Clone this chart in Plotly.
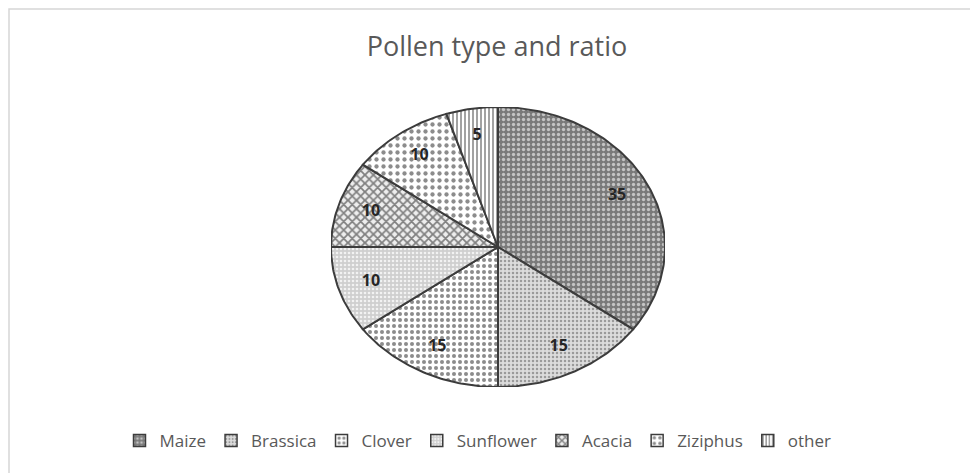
import numpy as np
import plotly.graph_objects as go

# Pollen composition (%), in clockwise order starting at 12 o'clock
categories = ["Maize", "Brassica", "Clover", "Sunflower", "Acacia", "Ziziphus", "other"]
ratios = [35, 15, 15, 10, 10, 10, 5]

# fill pattern for each pollen type
patterns = {
    "Maize":     dict(shape=".", bgcolor="#7a7a7a", fgcolor="#c4c4c4", size=5, solidity=0.35),
    "Brassica":  dict(shape=".", bgcolor="#dcdcdc", fgcolor="#9a9a9a", size=4, solidity=0.3),
    "Clover":    dict(shape=".", bgcolor="#ffffff", fgcolor="#8c8c8c", size=6, solidity=0.35),
    "Sunflower": dict(shape=".", bgcolor="#cfcfcf", fgcolor="#f2f2f2", size=4, solidity=0.35),
    "Acacia":    dict(shape="x", bgcolor="#eeeeee", fgcolor="#808080", size=6, solidity=0.5),
    "Ziziphus":  dict(shape=".", bgcolor="#ffffff", fgcolor="#8c8c8c", size=7, solidity=0.3),
    "other":     dict(shape="|", bgcolor="#ffffff", fgcolor="#7a7a7a", size=4, solidity=0.35),
}

W, H = 970, 473
cx, cy, rx, ry = 498, 247, 167, 140   # pie centre and radii in pixels
EDGE = "#3c3c3c"

fig = go.Figure()

total = float(sum(ratios))
start = 0.0
label_x, label_y = [], []
for name, v in zip(categories, ratios):
    span = v / total * 2 * np.pi
    th = np.linspace(start, start + span, max(8, int(v * 4)))
    xs = np.concatenate([[0.0], np.sin(th), [0.0]])
    ys = np.concatenate([[0.0], np.cos(th), [0.0]])
    fig.add_trace(go.Scatter(
        x=xs, y=ys, mode="lines", fill="toself", name=name,
        legendgroup=name, showlegend=False,
        line=dict(color=EDGE, width=2),
        fillpattern=dict(fillmode="replace", **patterns[name]),
        fillcolor=patterns[name]["bgcolor"],
        hoverinfo="name",
    ))
    mid = start + span / 2
    label_x.append(0.8 * np.sin(mid))
    label_y.append(0.8 * np.cos(mid))
    start += span

# square legend keys carrying the same patterns
for name in categories:
    fig.add_trace(go.Bar(
        x=[None], y=[None], name=name, legendgroup=name,
        marker=dict(color=patterns[name]["bgcolor"],
                    line=dict(color=EDGE, width=1.5),
                    pattern=dict(fillmode="replace", **patterns[name])),
        hoverinfo="skip",
    ))

fig.add_trace(go.Scatter(
    x=label_x, y=label_y, mode="text", text=[str(v) for v in ratios],
    textfont=dict(family="Open Sans", size=16, color="#262626", weight="bold"),
    showlegend=False, hoverinfo="skip",
))

fig.update_layout(
    width=W, height=H,
    margin=dict(l=0, r=0, t=0, b=0),
    paper_bgcolor="white", plot_bgcolor="rgba(0,0,0,0)",
    title=dict(text="Pollen type and ratio", x=497 / W, xanchor="center",
               y=1 - 47 / H, yanchor="middle",
               font=dict(family="Open Sans", size=27, color="#595959")),
    xaxis=dict(domain=[(cx - rx) / W, (cx + rx) / W], range=[-1.0, 1.0],
               visible=False, fixedrange=True),
    yaxis=dict(domain=[1 - (cy + ry) / H, 1 - (cy - ry) / H], range=[-1.0, 1.0],
               visible=False, fixedrange=True),
    legend=dict(orientation="h", x=478 / W, xanchor="center",
                y=1 - 441 / H, yanchor="middle",
                font=dict(family="Open Sans", size=17, color="#595959"),
                itemwidth=30, traceorder="normal", bgcolor="rgba(0,0,0,0)"),
    shapes=[dict(type="rect", xref="paper", yref="paper",
                 x0=9 / W, x1=1.2, y0=-0.2, y1=1 - 9 / H,
                 line=dict(color="#d6d6d6", width=1.5))],
    showlegend=True,
)

fig.write_html("out.html")
